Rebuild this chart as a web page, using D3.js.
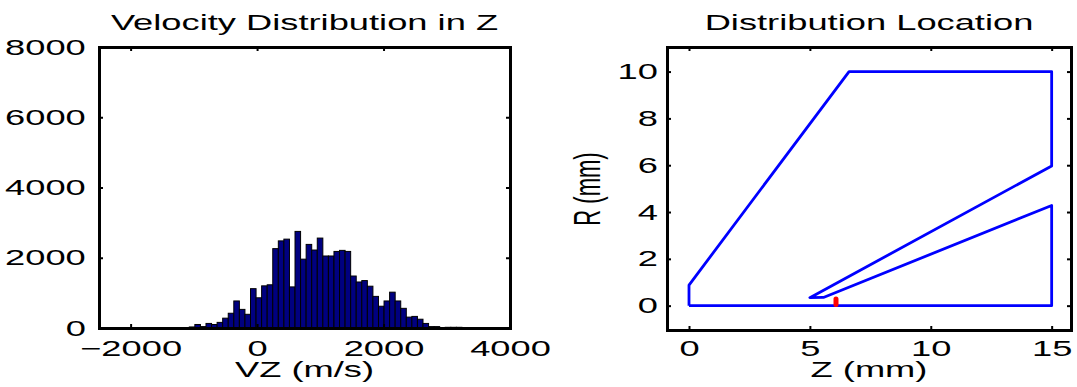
<!DOCTYPE html>
<html>
<head>
<meta charset="utf-8">
<script src="https://cdn.jsdelivr.net/npm/d3@7"></script>
<style>
  html, body { margin: 0; padding: 0; background: #fff; }
  svg text { font-family: "Liberation Sans", Arial, sans-serif; font-size: 22px; fill: #000; }
</style>
</head>
<body>
<svg id="chart" width="1077" height="387"></svg>
<script>
//histogram data (VZ in m/s)
const binCenters = [-1028, -940, -852, -764, -676, -588, -500, -412, -324, -236,
  -148, -60, 28, 116, 204, 292, 380, 468, 556, 644,
  732, 820, 908, 996, 1084, 1172, 1260, 1348, 1436, 1524,
  1612, 1700, 1788, 1876, 1964, 2052, 2140, 2228, 2316, 2404,
  2492, 2580, 2668, 2756, 2844, 2932, 3020, 3108, 3196, 3284];
const binCounts = [30, 100, 40, 130, 100, 160, 280, 420, 770, 530,
  390, 1120, 860, 1200, 1230, 2260, 2480, 2530, 1170, 2750,
  1960, 2380, 2220, 2560, 2050, 2050, 2180, 2210, 2180, 1480,
  1310, 1350, 1190, 900, 620, 770, 1020, 770, 560, 310,
  330, 250, 130, 40, 40, 10, 20, 20, 20, 10];
const binWidth = 88;
const vzTicks = [-2000, 0, 2000, 4000];
const countTicks = [0, 2000, 4000, 6000, 8000];

//geometry outline (Z, R in mm)
const outlineZ = [0, 0, 6.62, 15, 15, 5.0, 5.56, 15, 15, 0];
const outlineR = [0, 0.88, 10, 10, 5.97, 0.34, 0.35, 4.28, 0, 0];
//particle start location
const startZ = [6.08, 6.08];
const startR = [0.05, 0.28];
const zTicks = [0, 5, 10, 15];
const rTicks = [0, 2, 4, 6, 8, 10];

const sx = 1.65; // figure text is stretched sideways
const svg = d3.select("#chart");

function boxAxes(g, x, y, xt, yt, padL, padB) {
  g.append("g")
    .attr("transform", "translate(0," + y.range()[0] + ")")
    .call(d3.axisBottom(x).tickValues(xt).tickFormat(d3.format("d")).tickSize(-4).tickSizeOuter(0).tickPadding(padB));
  g.append("g")
    .attr("transform", "translate(0," + y.range()[1] + ")")
    .call(d3.axisTop(x).tickValues(xt).tickSize(-4).tickSizeOuter(0).tickFormat(""));
  g.append("g")
    .attr("transform", "translate(" + x.range()[0] + ",0)")
    .call(d3.axisLeft(y).tickValues(yt).tickFormat(d3.format("d")).tickSize(-4).tickSizeOuter(0).tickPadding(padL));
  g.append("g")
    .attr("transform", "translate(" + x.range()[1] + ",0)")
    .call(d3.axisRight(y).tickValues(yt).tickSize(-4).tickSizeOuter(0).tickFormat(""));
  g.selectAll(".domain").attr("stroke", "#000").attr("stroke-width", 3).attr("stroke-linecap", "square");
  g.selectAll(".tick line").attr("stroke-width", 2);
  g.selectAll(".tick text").attr("transform", "scale(" + sx + ",1)");
}

function label(txt, x, y, rot) {
  svg.append("text")
    .attr("text-anchor", "middle")
    .attr("transform", "translate(" + x + "," + y + ") scale(" + sx + ",1)" + (rot ? " rotate(" + rot + ")" : ""))
    .text(txt);
}

//left: histogram
const x1 = d3.scaleLinear().domain([-2500, 4000]).range([99, 510]);
const y1 = d3.scaleLinear().domain([0, 8000]).range([328, 47]);
const left = svg.append("g");

left.selectAll("rect")
  .data(binCenters)
  .enter()
  .append("rect")
  .attr("x", d => x1(d - binWidth / 2))
  .attr("width", d => x1(d + binWidth / 2) - x1(d - binWidth / 2))
  .attr("y", (d, i) => y1(binCounts[i]))
  .attr("height", (d, i) => y1(0) - y1(binCounts[i]))
  .attr("fill", "#000080")
  .attr("stroke", "#000")
  .attr("stroke-width", 1);

boxAxes(left, x1, y1, vzTicks, countTicks, 8, 12.4);

label("Velocity Distribution in Z", 304.5, 30);
label("VZ (m/s)", 304.5, 377);

//right: distribution location
const x2 = d3.scaleLinear().domain([-0.91, 15.8]).range([667, 1071]);
const y2 = d3.scaleLinear().domain([-1.04, 11.05]).range([330, 47]);
const right = svg.append("g");

const line = d3.line().x(i => x2(outlineZ[i])).y(i => y2(outlineR[i]));
right.append("path")
  .attr("d", line(d3.range(outlineZ.length)))
  .attr("fill", "none")
  .attr("stroke", "#0000ff")
  .attr("stroke-width", 2.8)
  .attr("stroke-linejoin", "round");

const startLine = d3.line().x(i => x2(startZ[i])).y(i => y2(startR[i]));
right.append("path")
  .attr("d", startLine(d3.range(startZ.length)))
  .attr("fill", "none")
  .attr("stroke", "#ff0000")
  .attr("stroke-width", 5)
  .attr("stroke-linecap", "round");

boxAxes(right, x2, y2, zTicks, rTicks, 5.5, 10.4);

label("Distribution Location", 869, 30);
label("Z (mm)", 869, 377);
label("R (mm)", 600, 189, -90);
</script>
</body>
</html>
